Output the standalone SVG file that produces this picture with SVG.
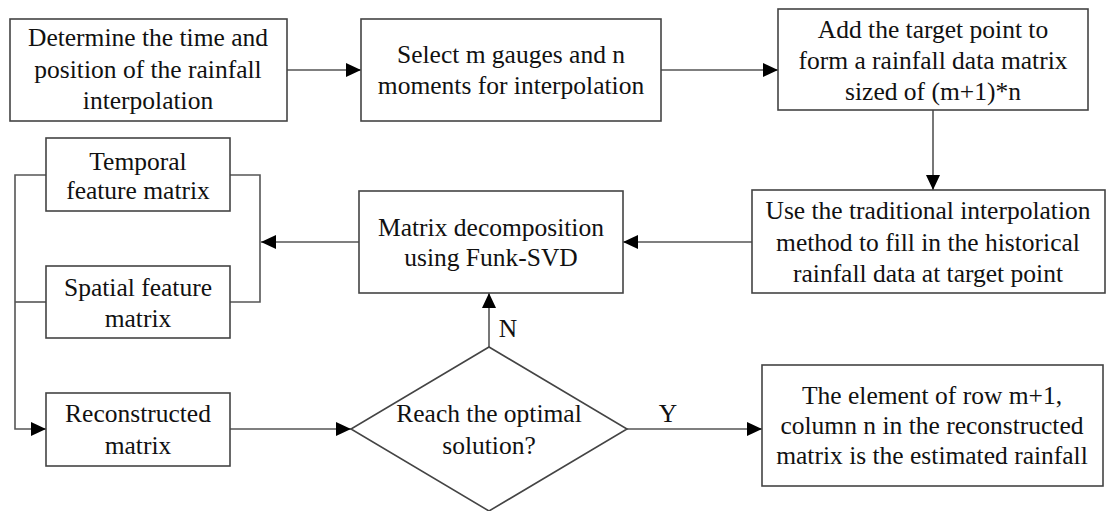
<svg xmlns="http://www.w3.org/2000/svg" width="1108" height="511" viewBox="0 0 1108 511">
<style>
.box{fill:#fff;stroke:#444;stroke-width:1.6}
.ln{fill:none;stroke:#555;stroke-width:1.6}
text{font-family:'Liberation Serif','DejaVu Serif',serif;font-size:25.5px;fill:#111;text-anchor:middle}
</style>
<defs>
<marker id="ah" markerUnits="userSpaceOnUse" markerWidth="16" markerHeight="14" refX="15" refY="7" orient="auto">
<path d="M0,0 L15,7 L0,14 Z" fill="#000"/>
</marker>
</defs>
<rect width="1108" height="511" fill="#fff"/>
<g id="connectors">
<line class="ln" x1="287" y1="70" x2="361" y2="70" marker-end="url(#ah)"/>
<line class="ln" x1="661" y1="70" x2="778" y2="70" marker-end="url(#ah)"/>
<line class="ln" x1="933" y1="110" x2="933" y2="190" marker-end="url(#ah)"/>
<line class="ln" x1="752" y1="242" x2="623" y2="242" marker-end="url(#ah)"/>
<line class="ln" x1="359" y1="242" x2="261" y2="242" marker-end="url(#ah)"/>
<polyline class="ln" points="230,175 260,175 260,302 230,302"/>
<polyline class="ln" points="46,175 15,175 15,429 46,429" marker-end="url(#ah)"/>
<line class="ln" x1="15" y1="302" x2="46" y2="302"/>
<line class="ln" x1="230" y1="429" x2="351" y2="429" marker-end="url(#ah)"/>
<line class="ln" x1="489" y1="347" x2="489" y2="293" marker-end="url(#ah)"/>
<line class="ln" x1="627" y1="429" x2="762" y2="429" marker-end="url(#ah)"/>
<text x="508" y="337">N</text>
<text x="668" y="422">Y</text>
</g>
<g id="n1">
<rect class="box" x="10" y="19" width="277" height="102"/>
<text x="148" y="46">Determine the time and</text>
<text x="148" y="78">position of the rainfall</text>
<text x="148" y="109">interpolation</text>
</g>
<g id="n2">
<rect class="box" x="361" y="19" width="300" height="102"/>
<text x="511" y="63">Select m gauges and n</text>
<text x="511" y="94">moments for interpolation</text>
</g>
<g id="n3">
<rect class="box" x="778" y="9" width="310" height="101"/>
<text x="933" y="38">Add the target point to</text>
<text x="933" y="69">form a rainfall data matrix</text>
<text x="933" y="100">sized of (m+1)*n</text>
</g>
<g id="n4">
<rect class="box" x="752" y="190" width="353" height="103"/>
<text x="928" y="219">Use the traditional interpolation</text>
<text x="928" y="251">method  to fill in the historical</text>
<text x="928" y="282">rainfall data at target point</text>
</g>
<g id="n5">
<rect class="box" x="359" y="191" width="264" height="102"/>
<text x="491" y="236">Matrix decomposition</text>
<text x="491" y="266">using Funk-SVD</text>
</g>
<g id="n6">
<rect class="box" x="46" y="138" width="184" height="73"/>
<text x="138" y="170">Temporal</text>
<text x="138" y="199">feature matrix</text>
</g>
<g id="n7">
<rect class="box" x="46" y="266" width="184" height="72"/>
<text x="138" y="296">Spatial feature</text>
<text x="138" y="327">matrix</text>
</g>
<g id="n8">
<rect class="box" x="46" y="393" width="184" height="73"/>
<text x="138" y="422">Reconstructed</text>
<text x="138" y="454">matrix</text>
</g>
<g id="n9">
<polygon class="box" points="489,347 627,429 489,511 351,429"/>
<text x="489" y="422">Reach the optimal</text>
<text x="489" y="454">solution?</text>
</g>
<g id="n10">
<rect class="box" x="762" y="365" width="341" height="121"/>
<text x="932" y="404">The element of row m+1,</text>
<text x="932" y="434">column n  in the reconstructed</text>
<text x="932" y="464">matrix is the estimated rainfall</text>
</g>
</svg>
